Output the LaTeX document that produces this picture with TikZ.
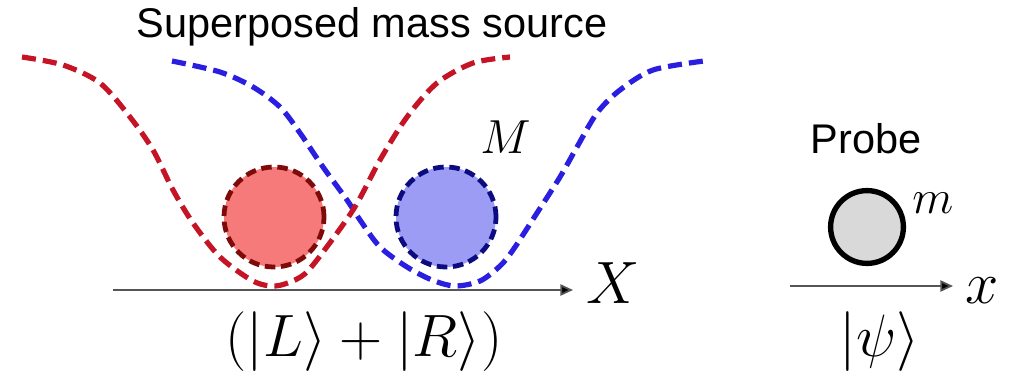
\RequirePackage{fix-cm}
\documentclass[tikz,border=0pt]{standalone}
\usepackage{fontspec}
\usepackage{tikz}
\usetikzlibrary{arrows.meta,positioning}
\newfontfamily\labelfont{Liberation Sans}
\definecolor{wellL}{HTML}{C41426}
\definecolor{wellR}{HTML}{2A1EE0}
\definecolor{massL}{HTML}{F77A7A}
\definecolor{edgeL}{HTML}{7E0A0A}
\definecolor{massR}{HTML}{9C9CF5}
\definecolor{edgeR}{HTML}{0C0C80}
\definecolor{probegray}{HTML}{D9D9D9}
\definecolor{axisgray}{HTML}{555555}

\begin{document}
\begin{tikzpicture}[x=0.025cm,y=-0.025cm,
  well/.style={line width=3.7pt,dash pattern=on 10pt off 5pt},
  ball/.style={circle,inner sep=0pt,minimum size=2.5cm,line width=3.4pt,dash pattern=on 7.5pt off 4pt},
  axisline/.style={axisgray,line width=1.3pt,-{Triangle[length=9pt,width=8pt,fill=black]}},
  sftext/.style={font=\labelfont\fontsize{29.5}{34}\selectfont},
  bigmath/.style={font=\fontsize{42.5}{50}\selectfont},
  smallmath/.style={font=\fontsize{34}{40}\selectfont}]
  \useasboundingbox (0,0) rectangle (1023,374);

  % Source wells
  \draw[well,wellR] plot[smooth] coordinates {(172,61) (220,72) (253,87) (280,107) (300,133)
    (323,167) (347,200) (360,220) (380,247) (407,267) (432,280) (455,286) (480,281)
    (500,266) (513,250) (537,213) (560,177) (577,147) (597,113) (620,90) (653,70) (704,61)};
  \draw[well,wellL] plot[smooth] coordinates {(22,57) (63,65) (100,83) (130,117) (153,150)
    (173,190) (193,223) (220,257) (253,281) (275,286) (297,279) (313,265) (353,210)
    (380,160) (407,117) (437,83) (473,63) (510,57)};

  % Masses
  \node[ball,fill=massL,draw=edgeL] (ballL) at (274,217) {};
  \node[ball,fill=massR,draw=edgeR] (ballR) at (446,217) {};
  \node[smallmath,anchor=base west,inner sep=0pt] (labM) at (480,153) {$M$};
  \node[sftext,anchor=base,inner sep=0pt] (title) at (372,38) {Superposed mass source};

  % Source axis
  \coordinate (srcS) at (113,290);
  \coordinate (srcE) at (573,290);
  \draw[axisline] (srcS) -- (srcE);
  \node[bigmath,anchor=base west,inner sep=0pt] (labX) at (586,303) {$X$};
  \node[bigmath,anchor=base,inner sep=0pt] (state) at (364,356) {$(|L\rangle + |R\rangle)$};

  % Probe
  \node[sftext,anchor=base,inner sep=0pt] (probeLbl) at (866,153) {Probe};
  \node[circle,inner sep=0pt,minimum size=1.82cm,line width=3.8pt,draw=black,fill=probegray] (probe) at (867,227) {};
  \node[smallmath,anchor=base west,inner sep=0pt] (labm) at (912,213) {$m$};
  \coordinate (prbS) at (790,286);
  \coordinate (prbE) at (953,286);
  \draw[axisline] (prbS) -- (prbE);
  \node[bigmath,anchor=base west,inner sep=0pt] (labx) at (965,303) {$x$};
  \node[bigmath,anchor=base,inner sep=0pt] (psi) at (880,356) {$|\psi\rangle$};
\end{tikzpicture}
\end{document}
